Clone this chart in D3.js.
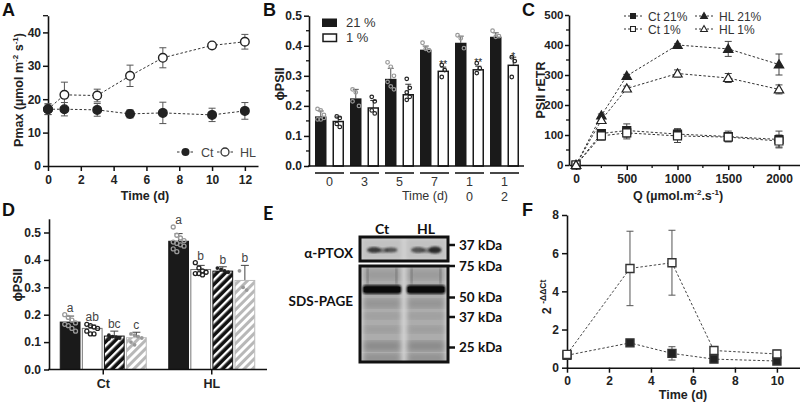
<!DOCTYPE html>
<html><head><meta charset="utf-8">
<script src="https://cdn.jsdelivr.net/npm/d3@7"></script>
<style>body{margin:0;background:#fff}svg{display:block;font-family:"Liberation Sans",Arial,sans-serif}</style>
</head><body><svg id="c" width="800" height="403"></svg>
<script>
// ---------- DATA ----------
// Panel A
const timeA = [0,1,3,5,7,10,12];
const ctA = [17,17,16.8,15.6,15.9,15.3,16.5];
const ctAerr = [1.6,2,1.9,1.2,3.2,2,2.5];
const hlA = [17,21.3,21.1,27,32.4,36.1,37.2];
const hlAerr = [1.6,3.8,1.9,3.2,3,0.5,2.2];
const ticksA_x = [0,2,4,6,8,10,12];
const ticksA_y = [0,10,20,30,40];
// Panel B
const daysB = ["0","3","5","7","10","12"];
const phiB21 = [0.165,0.225,0.29,0.387,0.41,0.43];
const phiB21err = [0.018,0.03,0.035,0.012,0.022,0.013];
const phiB1 = [0.148,0.193,0.237,0.315,0.32,0.335];
const phiB1err = [0.015,0.025,0.035,0.014,0.012,0.027];
const ptsB21 = [[0.19,0.185,0.17,0.155,0.155,0.16],[0.255,0.245,0.2,0.215],[0.345,0.33,0.3,0.28,0.265,0.255],[0.41,0.39,0.385],[0.435,0.425,0.392],[0.45,0.43,0.432]];
const ptsB1 = [[0.165,0.16,0.14,0.13],[0.23,0.215,0.185,0.175],[0.29,0.26,0.245,0.23,0.22],[0.336,0.319,0.296],[0.342,0.325,0.309],[0.362,0.349,0.296]];
const starsB = ["","","","**","**","*"];
const ticksB_y = [0,0.1,0.2,0.3,0.4,0.5];
// Panel C
const qC = [0,250,500,1000,1500,2000];
const ct21C = [0,105,115,103,95,85];
const ct21Cerr = [0,12,22,18,18,28];
const ct1C = [0,97,107,97,93,80];
const ct1Cerr = [0,14,20,22,15,20];
const hl21C = [0,165,297,400,387,335];
const hl21Cerr = [0,5,5,4,25,35];
const hl1C = [0,150,255,305,290,252];
const hl1Cerr = [0,5,8,12,15,15];
const ticksC_x = [0,500,1000,1500,2000];
const ticksC_y = [0,100,200,300,400,500];
// Panel D
const groupsD = ["Ct","HL"];
const phiD = [[0.173,0.150,0.122,0.116],[0.468,0.365,0.359,0.325]];
const phiDerr = [[0.022,0.012,0.018,0.02],[0.028,0.015,0.016,0.055]];
const lettersD = [["a","ab","bc","c"],["a","b","b","b"]];
const ptsD = [
 [[0.2,0.19,0.18,0.17,0.165,0.16,0.15,0.14],[0.165,0.16,0.155,0.15,0.14,0.13,0.13],[0.125,0.12,0.118,0.115,0.112],[0.13,0.125,0.12,0.115,0.1,0.09]],
 [[0.52,0.49,0.48,0.47,0.465,0.46,0.455,0.45,0.44,0.43],[0.39,0.37,0.36,0.355,0.35,0.35,0.345],[0.37,0.365,0.36,0.355],[0.36,0.3,0.29]]
];
const ticksD_y = [0,0.1,0.2,0.3,0.4,0.5];
// Panel E
const lanesE = ["Ct","HL"];
const markersE = ["37 kDa","75 kDa","50 kDa","37 kDa","25 kDa"];
// Panel F
const timeF = [0,3,5,7,10];
const hlF = [0.7,5.2,5.5,0.9,0.72];
const hlFerr = [0.2,1.95,1.7,0.15,0.2];
const ctF = [0.65,1.3,0.75,0.45,0.35];
const ctFerr = [0.2,0.08,0.35,0.1,0.08];
const ticksF_x = [0,2,4,6,8,10];
const ticksF_y = [0,2,4,6,8];

// ---------- DRAW ----------
const svg = d3.select("#c");
const TXT = "#222";
const defs = svg.append("defs");
const pB = defs.append("pattern").attr("id","hatchB").attr("patternUnits","userSpaceOnUse")
  .attr("width",6).attr("height",6).attr("patternTransform","rotate(45)");
pB.append("rect").attr("width",6).attr("height",6).attr("fill","#111");
pB.append("rect").attr("x",0).attr("width",2.4).attr("height",6).attr("fill","#fff");
const pG = defs.append("pattern").attr("id","hatchG").attr("patternUnits","userSpaceOnUse")
  .attr("width",6).attr("height",6).attr("patternTransform","rotate(45)");
pG.append("rect").attr("width",6).attr("height",6).attr("fill","#fff");
pG.append("rect").attr("x",0).attr("width",3).attr("height",6).attr("fill","#b8b8b8");
defs.append("filter").attr("id","blur1").append("feGaussianBlur").attr("stdDeviation",1.3);
defs.append("filter").attr("id","blur2").append("feGaussianBlur").attr("stdDeviation",2.2);
defs.append("filter").attr("id","blur3").append("feGaussianBlur").attr("stdDeviation",3);
const clipE = defs.append("clipPath").attr("id","clipE");
clipE.append("rect").attr("x",360).attr("y",237).attr("width",88).attr("height",24);
clipE.append("rect").attr("x",360).attr("y",266).attr("width",88).attr("height",96);

function panelLabel(t,x,y){
  svg.append("text").attr("x",x).attr("y",y).text(t)
    .attr("font-size",18).attr("font-weight","bold").attr("fill","#111");
}
function styleAxis(g,fs){
  g.selectAll(".domain").attr("stroke","#111").attr("stroke-width",1.6);
  g.selectAll(".tick line").attr("stroke","#111").attr("stroke-width",1.5);
  g.selectAll(".tick text").attr("font-size",fs||11.5).attr("font-weight","bold")
    .attr("fill",TXT).attr("font-family","Liberation Sans, Arial, sans-serif");
}
function minorTicks(g,vals,scale,orient,len){
  vals.forEach(v=>{
    if(orient==="left") g.append("line").attr("x1",-len).attr("x2",0).attr("y1",scale(v)).attr("y2",scale(v)).attr("stroke","#111").attr("stroke-width",1.3);
    else g.append("line").attr("y1",0).attr("y2",len).attr("x1",scale(v)).attr("x2",scale(v)).attr("stroke","#111").attr("stroke-width",1.3);
  });
}
function errBar(g,x,y1,y2,w,col){
  g.append("line").attr("x1",x).attr("x2",x).attr("y1",y1).attr("y2",y2).attr("stroke",col).attr("stroke-width",1);
  g.append("line").attr("x1",x-w).attr("x2",x+w).attr("y1",y1).attr("y2",y1).attr("stroke",col).attr("stroke-width",1);
  g.append("line").attr("x1",x-w).attr("x2",x+w).attr("y1",y2).attr("y2",y2).attr("stroke",col).attr("stroke-width",1);
}

// ===== Panel A =====
{
  const x = d3.scaleLinear().domain([0,12.8]).range([48,258]);
  const y = d3.scaleLinear().domain([0,45]).range([166,15.7]);
  const g = svg.append("g");
  const ax = g.append("g").attr("transform","translate(0,166)")
    .call(d3.axisBottom(x).tickValues(ticksA_x).tickSize(5).tickSizeOuter(0).tickPadding(4));
  styleAxis(ax,12);
  const ay = g.append("g").attr("transform","translate(48,0)")
    .call(d3.axisLeft(y).tickValues(ticksA_y).tickSize(5).tickSizeOuter(0).tickPadding(2));
  styleAxis(ay,12);
  minorTicks(ay,[45],y,"left",5);
  const line = d3.line().x((d,i)=>x(timeA[i])).y(d=>y(d));
  [[ctA,ctAerr],[hlA,hlAerr]].forEach(([vals,errs])=>{
    vals.forEach((v,i)=>errBar(g,x(timeA[i]),y(v+errs[i]),y(v-errs[i]),3.5,"#555"));
    g.append("path").attr("d",line(vals)).attr("fill","none").attr("stroke","#333").attr("stroke-width",1).attr("stroke-dasharray","2.5,2");
  });
  [[hlA,"#fff"],[ctA,"#222"]].forEach(([vals,fill])=>{
    g.selectAll(null).data(vals).join("circle").attr("cx",(d,i)=>x(timeA[i])).attr("cy",d=>y(d))
      .attr("r",4.3).attr("fill",fill).attr("stroke","#222").attr("stroke-width",1.4);
  });
  const lg = g.append("g");
  lg.append("line").attr("x1",177).attr("x2",194).attr("y1",152).attr("y2",152).attr("stroke","#333").attr("stroke-dasharray","2.5,2");
  lg.append("circle").attr("cx",185.5).attr("cy",152).attr("r",4).attr("fill","#222");
  lg.append("text").attr("x",201).attr("y",156.5).text("Ct").attr("font-size",12.5).attr("fill","#444");
  lg.append("line").attr("x1",217).attr("x2",233).attr("y1",152).attr("y2",152).attr("stroke","#333").attr("stroke-dasharray","2.5,2");
  lg.append("circle").attr("cx",225).attr("cy",152).attr("r",4).attr("fill","#fff").attr("stroke","#333").attr("stroke-width",1.3);
  lg.append("text").attr("x",240).attr("y",156.5).text("HL").attr("font-size",12.5).attr("fill","#444");
  g.append("text").attr("x",145).attr("y",200).attr("text-anchor","middle").text("Time (d)")
    .attr("font-size",12.5).attr("font-weight","bold").attr("fill",TXT);
  const yl = g.append("text").attr("transform","translate(23,90) rotate(-90)").attr("text-anchor","middle")
    .attr("font-size",12.5).attr("font-weight","bold").attr("fill",TXT);
  yl.append("tspan").text("Pmax (\u00b5mol m");
  yl.append("tspan").text("-2").attr("font-size",8).attr("dy",-5);
  yl.append("tspan").text(" s").attr("dy",5);
  yl.append("tspan").text("-1").attr("font-size",8).attr("dy",-5);
  yl.append("tspan").text(")").attr("dy",5);
  panelLabel("A",2,16);
}

// ===== Panel B =====
{
  const x = d3.scaleBand().domain(daysB).range([312,522]);
  const y = d3.scaleLinear().domain([0,0.5]).range([166,15.7]);
  const g = svg.append("g");
  const c = d => x(d)+x.bandwidth()/2;
  const bw = 11.5;
  daysB.forEach((d,i)=>{
    const xb = c(d)-14.5, xw = c(d)+3;
    const t21 = y(phiB21[i]+phiB21err[i]), t1 = y(phiB1[i]+phiB1err[i]);
    g.append("line").attr("x1",xb+bw/2).attr("x2",xb+bw/2).attr("y1",t21).attr("y2",y(phiB21[i])).attr("stroke","#555");
    g.append("line").attr("x1",xb+bw/2-3).attr("x2",xb+bw/2+3).attr("y1",t21).attr("y2",t21).attr("stroke","#555");
    g.append("rect").attr("x",xb).attr("y",y(phiB21[i])).attr("width",bw).attr("height",166-y(phiB21[i])).attr("fill","#1a1a1a");
    g.append("line").attr("x1",xw+bw/2).attr("x2",xw+bw/2).attr("y1",t1).attr("y2",y(phiB1[i])).attr("stroke","#333");
    g.append("line").attr("x1",xw+bw/2-3).attr("x2",xw+bw/2+3).attr("y1",t1).attr("y2",t1).attr("stroke","#333");
    g.append("rect").attr("x",xw+0.75).attr("y",y(phiB1[i])).attr("width",bw-1.5).attr("height",166-y(phiB1[i])).attr("fill","#fff").attr("stroke","#1a1a1a").attr("stroke-width",1.5);
    ptsB21[i].forEach((v,j)=>g.append("circle").attr("cx",xb+bw/2+((j%3)-1)*3.2).attr("cy",y(v)).attr("r",1.8).attr("fill","none").attr("stroke","#999").attr("stroke-width",1.2));
    ptsB1[i].forEach((v,j)=>g.append("circle").attr("cx",xw+bw/2+((j%2)-0.5)*3).attr("cy",y(v)).attr("r",1.8).attr("fill","none").attr("stroke","#222").attr("stroke-width",1.2));
    if(starsB[i]) g.append("text").attr("x",xw+bw/2).attr("y",Math.min(t1,y(d3.max(ptsB1[i])))+3).attr("text-anchor","middle")
      .text(starsB[i]).attr("font-size",10).attr("fill","#222");
    g.append("line").attr("x1",c(d)-14.5).attr("x2",c(d)+14.5).attr("y1",173).attr("y2",173).attr("stroke","#333").attr("stroke-width",1.8);
    d.split("").forEach((ch,k)=>g.append("text").attr("x",c(d)).attr("y",186+k*15).attr("text-anchor","middle").text(ch)
      .attr("font-size",12.5).attr("fill","#333"));
  });
  const ay = g.append("g").attr("transform","translate(309,0)")
    .call(d3.axisLeft(y).tickValues(ticksB_y).tickFormat(d3.format(".1f")).tickSize(5).tickSizeOuter(0).tickPadding(2));
  styleAxis(ay,12);
  minorTicks(ay,[0.05,0.15,0.25,0.35,0.45],y,"left",3);
  g.append("line").attr("x1",308).attr("x2",524).attr("y1",166).attr("y2",166).attr("stroke","#111").attr("stroke-width",1.6);
  g.append("text").attr("x",425).attr("y",200).attr("text-anchor","middle").text("Time (d)").attr("font-size",12.5).attr("fill","#333");
  g.append("text").attr("transform","translate(284,84) rotate(-90)").attr("text-anchor","middle").text("\u03d5PSII")
    .attr("font-size",12.5).attr("font-weight","bold").attr("fill",TXT);
  g.append("rect").attr("x",322).attr("y",18.5).attr("width",15).attr("height",8.5).attr("fill","#1a1a1a");
  g.append("text").attr("x",346).attr("y",27).text("21 %").attr("font-size",13).attr("fill","#333");
  g.append("rect").attr("x",323).attr("y",34).attr("width",13.5).attr("height",7.5).attr("fill","#fff").attr("stroke","#1a1a1a").attr("stroke-width",1.5);
  g.append("text").attr("x",346).attr("y",42).text("1 %").attr("font-size",13).attr("fill","#333");
  panelLabel("B",263,16);
}

// ===== Panel C =====
{
  const x = d3.scaleLinear().domain([-69,2207]).range([569,800]);
  const y = d3.scaleLinear().domain([0,500]).range([165,15]);
  const g = svg.append("g");
  const ax = g.append("g").attr("transform","translate(0,165)")
    .call(d3.axisBottom(x).tickValues(ticksC_x).tickFormat(d3.format("d")).tickSize(5).tickSizeOuter(0).tickPadding(4));
  styleAxis(ax,12);
  minorTicks(ax,[250,750,1250,1750],x,"bottom",3);
  const ay = g.append("g").attr("transform","translate(569,0)")
    .call(d3.axisLeft(y).tickValues(ticksC_y).tickSize(4).tickSizeOuter(0).tickPadding(1.5));
  styleAxis(ay,11.5);
  minorTicks(ay,[50,150,250,350,450],y,"left",3);
  const line = d3.line().x((d,i)=>x(qC[i])).y(d=>y(d));
  const series = [[ct21C,ct21Cerr,"sq","#222"],[ct1C,ct1Cerr,"sq","#fff"],[hl21C,hl21Cerr,"tri","#222"],[hl1C,hl1Cerr,"tri","#fff"]];
  series.forEach(([v,e])=>{
    v.forEach((d,i)=>{ if(e[i]>0) errBar(g,x(qC[i]),y(d+e[i]),y(d-e[i]),3.5,"#444"); });
  });
  series.forEach(([v])=>g.append("path").attr("d",line(v)).attr("fill","none").attr("stroke","#333").attr("stroke-width",1).attr("stroke-dasharray","2.5,2"));
  series.forEach(([v,e,shape,fill])=>{
    const sym = d3.symbol().type(shape==="sq"?d3.symbolSquare:d3.symbolTriangle).size(shape==="sq"?64:38);
    g.selectAll(null).data(v).join("path").attr("d",sym)
      .attr("transform",(d,i)=>`translate(${x(qC[i])},${y(d)+(shape==="tri"?0.8:0)})`)
      .attr("fill",fill).attr("stroke","#222").attr("stroke-width",1.2);
  });
  const leg = [["Ct 21%",633,16,"sq","#222"],["Ct 1%",633,29,"sq","#fff"],["HL 21%",704,16,"tri","#222"],["HL 1%",704,29,"tri","#fff"]];
  leg.forEach(([t,cx,cy,shape,fill])=>{
    g.append("line").attr("x1",cx-9).attr("x2",cx+9).attr("y1",cy).attr("y2",cy).attr("stroke","#333").attr("stroke-dasharray","2,2");
    const sym = d3.symbol().type(shape==="sq"?d3.symbolSquare:d3.symbolTriangle).size(shape==="sq"?24:20);
    g.append("path").attr("d",sym()).attr("transform",`translate(${cx},${cy+(shape==="tri"?0.5:0)})`).attr("fill",fill).attr("stroke","#222").attr("stroke-width",1.1);
    g.append("text").attr("x",cx+15).attr("y",cy+4.5).text(t).attr("font-size",12).attr("fill","#333");
  });
  const xl = g.append("text").attr("x",678).attr("y",200).attr("text-anchor","middle").attr("font-size",12.5).attr("font-weight","bold").attr("fill",TXT);
  xl.append("tspan").text("Q (\u00b5mol.m");
  xl.append("tspan").text("-2").attr("font-size",8).attr("dy",-5);
  xl.append("tspan").text(".s").attr("dy",5);
  xl.append("tspan").text("-1").attr("font-size",8).attr("dy",-5);
  xl.append("tspan").text(")").attr("dy",5);
  g.append("text").attr("transform","translate(545,90) rotate(-90)").attr("text-anchor","middle").text("PSII rETR")
    .attr("font-size",12.5).attr("font-weight","bold").attr("fill",TXT);
  panelLabel("C",522,16);
}

// ===== Panel D =====
{
  const xg = d3.scaleBand().domain(groupsD).range([49,266]);
  const xi = d3.scaleBand().domain([0,1,2,3]).range([-43.5,43.5]).paddingInner(0.06);
  const y = d3.scaleLinear().domain([0,0.55]).range([369.5,218.8]);
  const g = svg.append("g");
  const fills = ["#1a1a1a","#fff","url(#hatchB)","url(#hatchG)"];
  const strokes = ["#1a1a1a","#777","#111","#bbb"];
  const ptCol = ["#999","#222","#222","#999"];
  groupsD.forEach((grp,gi)=>{
    const gc = xg(grp)+xg.bandwidth()/2;
    [0,1,2,3].forEach(k=>{
      const bx = gc+xi(k), bw = xi.bandwidth(), v = phiD[gi][k], e = phiDerr[gi][k];
      const cx = bx+bw/2;
      g.append("line").attr("x1",cx).attr("x2",cx).attr("y1",y(v+e)).attr("y2",y(v)).attr("stroke","#444");
      g.append("line").attr("x1",cx-4).attr("x2",cx+4).attr("y1",y(v+e)).attr("y2",y(v+e)).attr("stroke","#444");
      g.append("rect").attr("x",bx+0.5).attr("y",y(v)).attr("width",bw-1).attr("height",369.5-y(v))
        .attr("fill",fills[k]).attr("stroke",strokes[k]).attr("stroke-width",1);
      ptsD[gi][k].forEach((p,j)=>{
        const jx = cx+((j%4)-1.5)*3.6;
        if(k<2) g.append("circle").attr("cx",jx).attr("cy",y(p)).attr("r",2).attr("fill","none").attr("stroke",ptCol[k]).attr("stroke-width",1.3);
        else g.append("circle").attr("cx",jx).attr("cy",y(p)).attr("r",1.9).attr("fill",ptCol[k]);
      });
      g.append("text").attr("x",cx).attr("y",y(Math.max(v+e,d3.max(ptsD[gi][k])))-3).attr("text-anchor","middle")
        .text(lettersD[gi][k]).attr("font-size",12).attr("fill","#444");
    });
  });
  const ax = g.append("g").attr("transform","translate(0,369.5)")
    .call(d3.axisBottom(xg).tickSize(5).tickSizeOuter(0).tickPadding(5));
  styleAxis(ax,12.5);
  ax.select(".domain").remove();
  g.append("line").attr("x1",48).attr("x2",267).attr("y1",369.5).attr("y2",369.5).attr("stroke","#111").attr("stroke-width",1.6);
  const ay = g.append("g").attr("transform","translate(49,0)")
    .call(d3.axisLeft(y).tickValues(ticksD_y).tickFormat(d3.format(".1f")).tickSize(5).tickSizeOuter(0).tickPadding(3));
  styleAxis(ay,12);
  g.append("text").attr("transform","translate(22,285) rotate(-90)").attr("text-anchor","middle").text("\u03d5PSII")
    .attr("font-size",12.5).attr("font-weight","bold").attr("fill",TXT);
  panelLabel("D",2,216);
}

// ===== Panel E (blot) =====
{
  const g = svg.append("g");
  const F = "Lato, 'Open Sans', sans-serif";
  const lx = d3.scaleBand().domain(lanesE).range([360,448]).paddingInner(0.08).paddingOuter(0.04);
  const inner = g.append("g").attr("clip-path","url(#clipE)");
  // upper box
  inner.append("rect").attr("x",360).attr("y",237).attr("width",88).attr("height",24).attr("fill","#d6d6d6");
  lanesE.forEach((l,i)=>{
    const cx = lx(l)+lx.bandwidth()/2;
    inner.append("rect").attr("x",lx(l)).attr("y",238).attr("width",lx.bandwidth()).attr("height",22).attr("fill","#c2c2c2").attr("filter","url(#blur2)");
    inner.append("ellipse").attr("cx",cx-8).attr("cy",250).attr("rx",7).attr("ry",3).attr("fill","#222").attr("filter","url(#blur1)").attr("opacity",i?0.7:0.85);
    inner.append("ellipse").attr("cx",cx+1).attr("cy",250.5).attr("rx",6).attr("ry",2.2).attr("fill","#333").attr("filter","url(#blur1)").attr("opacity",0.55);
    inner.append("ellipse").attr("cx",cx+9).attr("cy",250).attr("rx",6.5).attr("ry",i?3.5:2.6).attr("fill","#222").attr("filter","url(#blur1)").attr("opacity",i?0.95:0.7);
  });
  // lower box
  inner.append("rect").attr("x",360).attr("y",266).attr("width",88).attr("height",96).attr("fill","#d4d4d4");
  lanesE.forEach((l,i)=>{
    const bx = lx(l), bw = lx.bandwidth();
    inner.append("rect").attr("x",bx+1).attr("y",262).attr("width",bw-2).attr("height",104).attr("fill","#acacac").attr("filter","url(#blur2)");
    const bands = [[270,10,0.2],[299,9,0.3],[313,6,0.2],[326,7,0.2],[341,10,0.4],[354,8,0.35]];
    bands.forEach(([by,bh,op])=>inner.append("rect").attr("x",bx+2).attr("y",by).attr("width",bw-4).attr("height",bh).attr("fill","#555").attr("opacity",op).attr("filter","url(#blur3)"));
    inner.append("rect").attr("x",bx+5).attr("y",268).attr("width",2).attr("height",16).attr("fill","#555").attr("opacity",0.5).attr("filter","url(#blur1)");
    inner.append("rect").attr("x",bx+bw-7).attr("y",268).attr("width",2).attr("height",16).attr("fill","#555").attr("opacity",0.5).attr("filter","url(#blur1)");
    inner.append("rect").attr("x",bx+1).attr("y",285).attr("width",bw-2).attr("height",9).attr("rx",3).attr("fill","#111").attr("filter","url(#blur1)");
    inner.append("rect").attr("x",bx+2).attr("y",287).attr("width",bw-4).attr("height",5).attr("fill","#0a0a0a");
  });
  g.append("rect").attr("x",360).attr("y",237).attr("width",88).attr("height",24).attr("fill","none").attr("stroke","#111").attr("stroke-width",3);
  g.append("rect").attr("x",360).attr("y",266).attr("width",88).attr("height",96).attr("fill","none").attr("stroke","#111").attr("stroke-width",3);
  lanesE.forEach(l=>g.append("text").attr("x",lx(l)+lx.bandwidth()/2).attr("y",234).attr("text-anchor","middle").text(l)
    .attr("font-family",F).attr("font-size",14).attr("font-weight","bold").attr("fill","#111"));
  g.append("text").attr("x",353).attr("y",258).attr("text-anchor","end").text("\u03b1-PTOX").attr("font-family",F).attr("font-size",13.5).attr("font-weight","bold").attr("fill","#111");
  g.append("text").attr("x",353).attr("y",306).attr("text-anchor","end").text("SDS-PAGE").attr("font-family",F).attr("font-size",13.5).attr("font-weight","bold").attr("fill","#111");
  const markerY = [245,266,297.5,317,347.5];
  markersE.forEach((m,i)=>{
    g.append("line").attr("x1",449).attr("x2",455).attr("y1",markerY[i]).attr("y2",markerY[i]).attr("stroke","#111").attr("stroke-width",2.5);
    g.append("text").attr("x",459).attr("y",markerY[i]+4.5).text(m).attr("font-family",F).attr("font-size",13.5).attr("font-weight","bold").attr("fill","#111");
  });
  g.append("text").attr("x",263).attr("y",220).text("E").attr("font-family",F).attr("font-size",18).attr("font-weight","bold").attr("fill","#111");
}

// ===== Panel F =====
{
  const x = d3.scaleLinear().domain([0,11.1]).range([567,800]);
  const y = d3.scaleLinear().domain([0,8]).range([367.7,215]);
  const g = svg.append("g");
  const ax = g.append("g").attr("transform","translate(0,367.7)")
    .call(d3.axisBottom(x).tickValues(ticksF_x).tickSize(5).tickSizeOuter(0).tickPadding(4));
  styleAxis(ax,12);
  const ay = g.append("g").attr("transform","translate(567,0)")
    .call(d3.axisLeft(y).tickValues(ticksF_y).tickSize(5).tickSizeOuter(0).tickPadding(3));
  styleAxis(ay,12);
  const line = d3.line().x((d,i)=>x(timeF[i])).y(d=>y(d));
  [[hlF,hlFerr],[ctF,ctFerr]].forEach(([v,e])=>v.forEach((d,i)=>errBar(g,x(timeF[i]),y(d+e[i]),y(d-e[i]),3.5,"#555")));
  [hlF,ctF].forEach(v=>g.append("path").attr("d",line(v)).attr("fill","none").attr("stroke","#444").attr("stroke-width",1).attr("stroke-dasharray","2.5,2"));
  const sym = d3.symbol().type(d3.symbolSquare).size(64);
  [[ctF,"#222"],[hlF,"#fff"]].forEach(([v,fill])=>g.selectAll(null).data(v).join("path").attr("d",sym)
    .attr("transform",(d,i)=>`translate(${x(timeF[i])},${y(d)})`).attr("fill",fill).attr("stroke","#333").attr("stroke-width",1.4));
  g.append("text").attr("x",683).attr("y",399).attr("text-anchor","middle").text("Time (d)").attr("font-size",12.5).attr("font-weight","bold").attr("fill",TXT);
  const yl = g.append("text").attr("transform","translate(551,297) rotate(-90)").attr("text-anchor","middle").attr("font-weight","bold").attr("fill",TXT);
  yl.append("tspan").text("2 ").attr("font-size",12.5);
  yl.append("tspan").text("-\u0394\u0394Ct").attr("font-size",8.5).attr("dy",-5);
  panelLabel("F",522,216);
}
</script></body></html>
